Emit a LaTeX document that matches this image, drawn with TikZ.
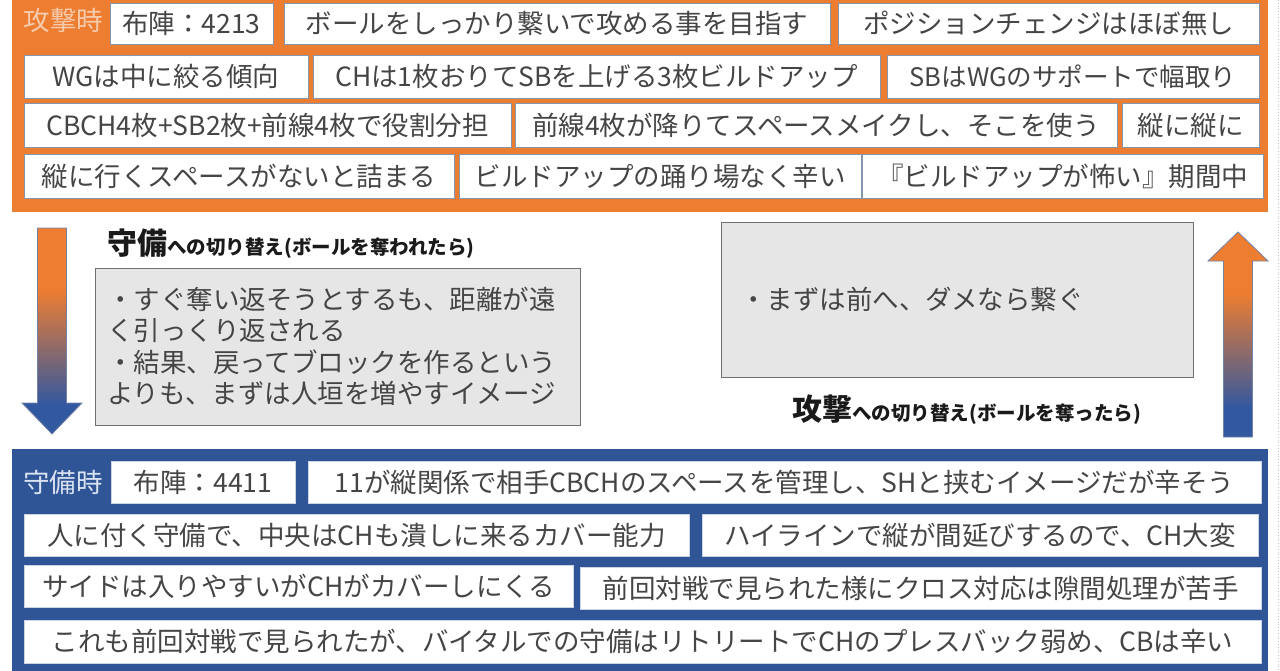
\documentclass[tikz,border=0pt]{standalone}
\usepackage{fontspec}
\setmainfont{Noto Sans CJK JP}
\definecolor{porange}{HTML}{ED7D31}
\definecolor{pblue}{HTML}{2F5597}
\definecolor{ablue}{HTML}{3258A0}
\definecolor{txt}{HTML}{454545}
\definecolor{cellline}{HTML}{8497B0}
\definecolor{graybox}{HTML}{E7E6E6}
\definecolor{grayline}{HTML}{6F6F6F}
\definecolor{peach}{HTML}{F8CBAD}
\definecolor{lblue}{HTML}{DAE3F3}
\definecolor{arrowline}{HTML}{7283A9}
\definecolor{titletxt}{HTML}{1A1A1A}
\pgfdeclareverticalshading{arrowshade}{100bp}{color(0bp)=(ablue); color(32bp)=(ablue); color(60bp)=(porange); color(100bp)=(porange)}
\newcommand\bodyfont{\fontsize{26.5}{31.5}\selectfont}
\tikzset{
  panel/.style={inner sep=0pt, draw=none},
  cell/.style={draw=cellline, line width=0.8pt, fill=white, inner sep=0pt, text=txt, font=\bodyfont},
  bcell/.style={cell, draw=white!75!pblue},
  notebox/.style={draw=grayline, line width=1pt, fill=graybox, inner sep=0pt, text=txt, font=\bodyfont, align=left},
  tag/.style={inner sep=0pt, font=\bodyfont},
  title/.style={inner sep=0pt, text=titletxt, anchor=west},
  bigarrow/.style={draw=arrowline, line width=0.8pt, shading=arrowshade}
}
\newcommand\mycell[7][]{\node[cell,#1, minimum width={#5pt-#3pt}, minimum height={#6pt-#4pt}] (#2) at ({(#3+#5)/2},{(#4+#6)/2}) {#7};}
\begin{document}
\begin{tikzpicture}[x=1pt,y=-1pt]
\useasboundingbox (0,0) rectangle (1280,670);
\fill[white] (0,0) rectangle (1280,670);
% panels
\node[panel, fill=porange, minimum width=1256pt, minimum height=222pt] (atk) at (640,101) {};
\node[panel, fill=pblue, minimum width=1256pt, minimum height=231pt] (dfn) at (640,564.5) {};
% attack rows
\node[tag, text=peach] (atktag) at (63.5,20) {攻撃時};
\mycell{r1a}{110}{3}{273}{44}{布陣：4213}
\mycell{r1b}{284}{3}{830}{44}{ボールをしっかり繋いで攻める事を目指す}
\mycell{r1c}{838}{3}{1259}{44}{ポジションチェンジはほぼ無し}
\mycell{r2a}{24}{55}{308}{98}{WGは中に絞る傾向}
\mycell{r2b}{313}{55}{880}{98}{CHは1枚おりてSBを上げる3枚ビルドアップ}
\mycell{r2c}{887}{55}{1259}{98}{\fontsize{25.5}{30}\selectfont SBはWGのサポートで幅取り}
\mycell{r3a}{24}{103}{511}{147}{CBCH4枚+SB2枚+前線4枚で役割分担}
\mycell{r3b}{515}{103}{1117}{147}{前線4枚が降りてスペースメイクし、そこを使う}
\mycell{r3c}{1122}{103}{1259}{147}{縦に縦に}
\mycell{r4a}{24}{154}{454}{198}{縦に行くスペースがないと詰まる}
\mycell{r4b}{459}{154}{861}{198}{ビルドアップの踊り場なく辛い}
\mycell{r4c}{862}{154}{1263}{198}{『ビルドアップが怖い』期間中}
% defence rows
\node[tag, text=lblue] (dfntag) at (63,482) {守備時};
\mycell[bcell]{b1a}{111}{461}{295}{503}{布陣：4411}
\mycell[bcell]{b1b}{308}{461}{1261}{503}{11が縦関係で相手CBCHのスペースを管理し、SHと挟むイメージだが辛そう}
\mycell[bcell]{b2a}{24}{514}{689}{556}{人に付く守備で、中央はCHも潰しに来るカバー能力}
\mycell[bcell]{b2b}{702}{514}{1258}{556}{ハイラインで縦が間延びするので、CH大変}
\mycell[bcell]{b3a}{24}{565}{573}{607}{サイドは入りやすいがCHがカバーしにくる}
\mycell[bcell]{b3b}{580}{567}{1261}{609}{前回対戦で見られた様にクロス対応は隙間処理が苦手}
\mycell[bcell]{b4a}{24}{620}{1261}{663}{これも前回対戦で見られたが、バイタルでの守備はリトリートでCHのプレスバック弱め、CBは辛い}
% transitions
\node[title] (totitle) at (107,244) {{\fontsize{30}{30}\bfseries 守備}{\fontsize{19.5}{20}\bfseries への切り替え(ボールを奪われたら)}};
\node[notebox, minimum width=485pt, minimum height=157pt, text width=461pt] (tonote) at (337.5,346.5) {・すぐ奪い返そうとするも、距離が遠\\く引っくり返される\\・結果、戻ってブロックを作るという\\よりも、まずは人垣を増やすイメージ};
\node[notebox, minimum width=472pt, minimum height=155pt, text width=434pt] (fromnote) at (957,299.5) {・まずは前へ、ダメなら繋ぐ};
\node[title] (fromtitle) at (792,410) {{\fontsize{30}{30}\bfseries 攻撃}{\fontsize{19.5}{20}\bfseries への切り替え(ボールを奪ったら)}};
% arrows
\shade[bigarrow] (37.5,228) -- (66.5,228) -- (66.5,403) -- (82,403) -- (52,434) -- (22,403) -- (37.5,403) -- cycle;
\shade[bigarrow] (1223.5,437) -- (1252.5,437) -- (1252.5,261) -- (1268,261) -- (1238,232) -- (1208,261) -- (1223.5,261) -- cycle;
\draw[gray!45, dotted, line width=0.8pt] (1278.5,0) -- (1278.5,670);
\end{tikzpicture}
\end{document}
